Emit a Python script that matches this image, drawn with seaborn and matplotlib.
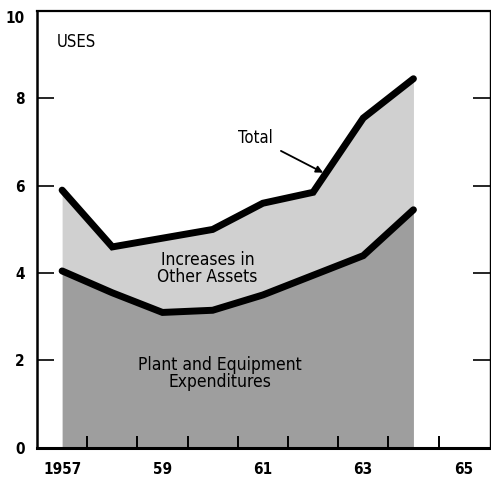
import pandas as pd
import matplotlib.pyplot as plt
import seaborn as sns

# values (billions of dollars)
years = [1957, 1958, 1959, 1960, 1961, 1962, 1963, 1964]
total = [5.9, 4.6, 4.8, 5.0, 5.6, 5.85, 7.55, 8.45]
plant_equipment = [4.05, 3.55, 3.1, 3.15, 3.5, 3.95, 4.4, 5.45]
year_ticks = [1957, 1959, 1961, 1963, 1965]
year_labels = ["1957", "59", "61", "63", "65"]
y_ticks = [0, 2, 4, 6, 8, 10]

sns.set_style("ticks")
plt.rcParams["font.family"] = ["DejaVu Sans"]
plt.rcParams["font.stretch"] = "condensed"
plt.rcParams["text.color"] = "black"

df = pd.DataFrame({"year": years, "total": total, "plant": plant_equipment})

fig = plt.figure(figsize=(4.91, 4.79), dpi=100)
ax = fig.add_axes([0.0754, 0.065, 0.922, 0.912])

# shaded areas
ax.fill_between(df["year"], 0, df["plant"], color="#9e9e9e", lw=0, zorder=0.5)
ax.fill_between(df["year"], df["plant"], df["total"], color="#d0d0d0", lw=0,
                zorder=0.5)

# heavy boundary lines
sns.lineplot(data=df, x="year", y="total", color="black", lw=5, ax=ax,
             solid_joinstyle="miter", zorder=3)
sns.lineplot(data=df, x="year", y="plant", color="black", lw=5, ax=ax,
             solid_joinstyle="miter", zorder=3)
ax.set_axisbelow(False)

ax.set_xlim(1956.5, 1965.52)
ax.set_ylim(0, 10)
ax.set_xlabel("")
ax.set_ylabel("")

# labels at years, ticks between years
ax.set_xticks(year_ticks)
ax.set_xticklabels(year_labels, fontsize=11, fontweight="bold",
                   color="black")
ax.tick_params(axis="x", length=0, pad=10)
ax.set_xticks([y + 0.5 for y in years], minor=True)
ax.tick_params(axis="x", which="minor", direction="in", length=9,
               width=1.4, color="black")

ax.set_yticks(y_ticks)
ax.set_yticklabels([str(v) for v in y_ticks], fontsize=11, fontweight="bold",
                   color="black")
ax.tick_params(axis="y", direction="in", length=12, width=1.2,
               right=True, pad=9, color="black")
ax.get_yticklabels()[-1].set_va("top")

for side in ["left", "bottom", "top", "right"]:
    ax.spines[side].set_visible(True)
    ax.spines[side].set_color("black")
ax.spines["left"].set_linewidth(1.8)
ax.spines["bottom"].set_linewidth(2.2)
ax.spines["top"].set_linewidth(1.6)
ax.spines["right"].set_linewidth(1.0)

ax.text(1956.9, 9.3, "USES", fontsize=12, ha="left", va="center")
ax.annotate("Total", xy=(1962.2, 6.3), xytext=(1960.85, 7.1),
            fontsize=12, ha="center", va="center",
            arrowprops=dict(arrowstyle="-|>", color="black", lw=1.3,
                            mutation_scale=10, shrinkA=4, shrinkB=0))
ax.text(1959.9, 4.1, "Increases in\nOther Assets", fontsize=12.5,
        ha="center", va="center", linespacing=0.95)
ax.text(1960.15, 1.7, "Plant and Equipment\nExpenditures", fontsize=12.5,
        ha="center", va="center", linespacing=0.95)

plt.savefig("out.png", dpi=100)
